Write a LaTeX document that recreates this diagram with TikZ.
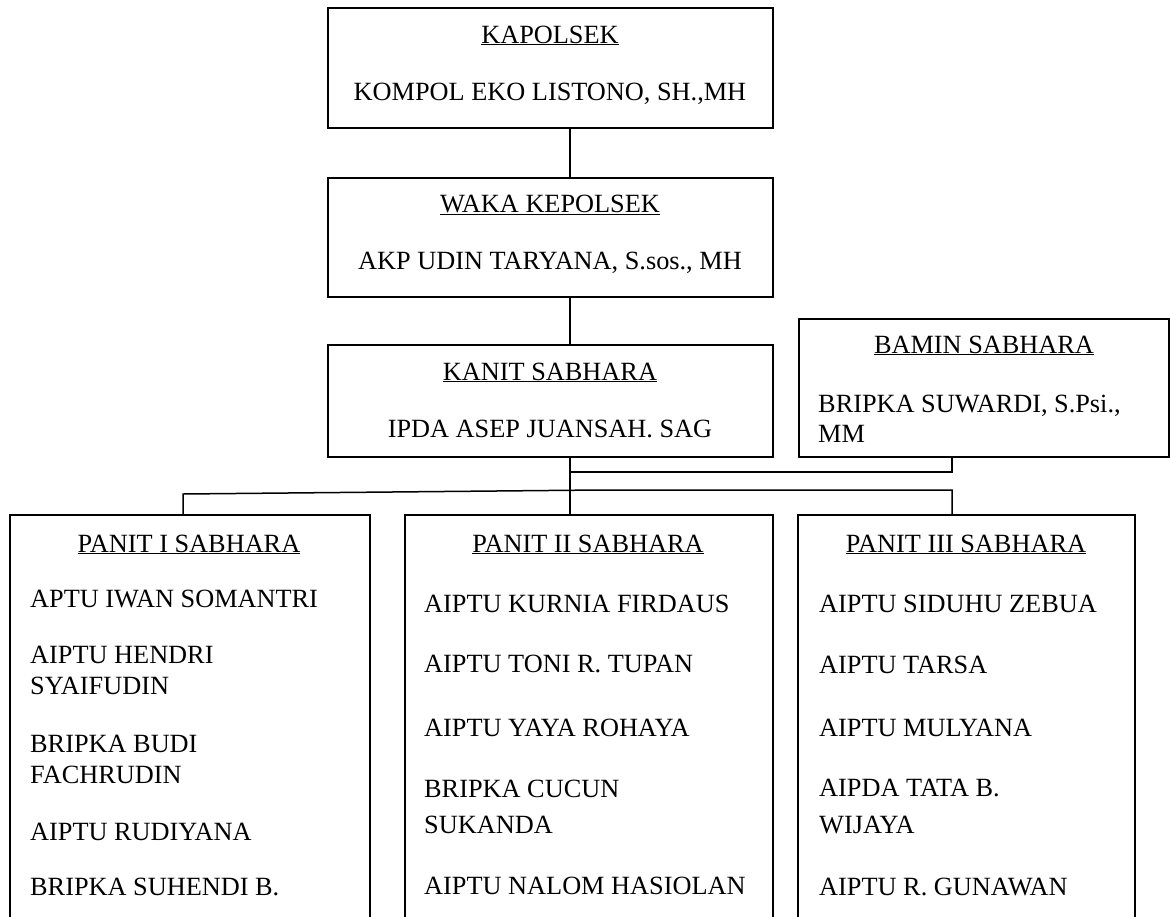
\documentclass[tikz,border=0pt]{standalone}
\usepackage{fontspec}
\setmainfont{Liberation Serif}
\usepackage{tikz}

\newcommand{\orgfont}{\fontsize{26.3}{35}\selectfont}

\tikzset{
  box/.style={draw, line width=1.5pt, anchor=north west, inner sep=0pt},
  head/.style={font=\orgfont, anchor=base, inner sep=0pt},
  member/.style={font=\orgfont, anchor=base west, inner sep=0pt},
  link/.style={line width=1.5pt},
}

\begin{document}
\begin{tikzpicture}[x=1pt, y=-1pt]
    \useasboundingbox (0,0) rectangle (1170,916);

    % Kapolsek
    \node[box, minimum width=445pt, minimum height=120pt] (kapolsek) at (327,7) {};
    \node[head] (kapolsekT) at (550,43) {\underline{KAPOLSEK}};
    \node[head] (kapolsekN) at (550,100) {KOMPOL EKO LISTONO, SH.,MH};

    % Waka Kepolsek
    \node[box, minimum width=445pt, minimum height=119pt] (waka) at (327,177) {};
    \node[head] (wakaT) at (550,212) {\underline{WAKA KEPOLSEK}};
    \node[head] (wakaN) at (550,269) {AKP UDIN TARYANA, S.sos., MH};

    % Kanit Sabhara
    \node[box, minimum width=445pt, minimum height=112pt] (kanit) at (327,344) {};
    \node[head] (kanitT) at (550,380) {\underline{KANIT SABHARA}};
    \node[head] (kanitN) at (550,437) {IPDA ASEP JUANSAH. SAG};

    % Bamin Sabhara
    \node[box, minimum width=370pt, minimum height=138pt] (bamin) at (798,318) {};
    \node[head] (baminT) at (984,353) {\underline{BAMIN SABHARA}};
    \node[member] (baminN1) at (818,412) {BRIPKA SUWARDI, S.Psi.,};
    \node[member] (baminN2) at (818,442) {MM};

    % Panit I
    \node[box, minimum width=360pt, minimum height=420pt] (panit1) at (9,514) {};
    \node[head] (panit1T) at (189,552) {\underline{PANIT I SABHARA}};
    \node[member] (p1a) at (30,607) {APTU IWAN SOMANTRI};
    \node[member] (p1b) at (30,663) {AIPTU HENDRI};
    \node[member] (p1c) at (30,694) {SYAIFUDIN};
    \node[member] (p1d) at (30,752) {BRIPKA BUDI};
    \node[member] (p1e) at (30,783) {FACHRUDIN};
    \node[member] (p1f) at (30,840) {AIPTU RUDIYANA};
    \node[member] (p1g) at (30,895) {BRIPKA SUHENDI B.};

    % Panit II
    \node[box, minimum width=368pt, minimum height=420pt] (panit2) at (404,514) {};
    \node[head] (panit2T) at (588,552) {\underline{PANIT II SABHARA}};
    \node[member] (p2a) at (424,612) {AIPTU KURNIA FIRDAUS};
    \node[member] (p2b) at (424,672) {AIPTU TONI R. TUPAN};
    \node[member] (p2c) at (424,736) {AIPTU YAYA ROHAYA};
    \node[member] (p2d) at (424,797) {BRIPKA CUCUN};
    \node[member] (p2e) at (424,833) {SUKANDA};
    \node[member] (p2f) at (424,894) {AIPTU NALOM HASIOLAN};

    % Panit III
    \node[box, minimum width=337pt, minimum height=420pt] (panit3) at (797,514) {};
    \node[head] (panit3T) at (966,552) {\underline{PANIT III SABHARA}};
    \node[member] (p3a) at (819,612) {AIPTU SIDUHU ZEBUA};
    \node[member] (p3b) at (819,673) {AIPTU TARSA};
    \node[member] (p3c) at (819,736) {AIPTU MULYANA};
    \node[member] (p3d) at (819,796) {AIPDA TATA B.};
    \node[member] (p3e) at (819,833) {WIJAYA};
    \node[member] (p3f) at (819,895) {AIPTU R. GUNAWAN};

    % Connectors
    \coordinate (trunk) at (570,0);
    \coordinate (rtrunk) at (952,0);
    \coordinate (ltrunk) at (183,0);
    \coordinate (busA) at (0,472);
    \coordinate (busB) at (0,490);
    \coordinate (busL) at (0,494);
    \coordinate (bend) at (600,490);
    \draw[link] (kapolsek.south -| trunk) -- (waka.north -| trunk);
    \draw[link] (waka.south -| trunk) -- (kanit.north -| trunk);
    \draw[link] (kanit.south -| trunk) -- (panit2.north -| trunk);
    \draw[link] (bamin.south -| rtrunk) -- (rtrunk |- busA) -- (trunk |- busA);
    \draw[link] (panit1.north -| ltrunk) -- (ltrunk |- busL) -- (bend) -- (rtrunk |- busB) -- (panit3.north -| rtrunk);
\end{tikzpicture}
\end{document}
